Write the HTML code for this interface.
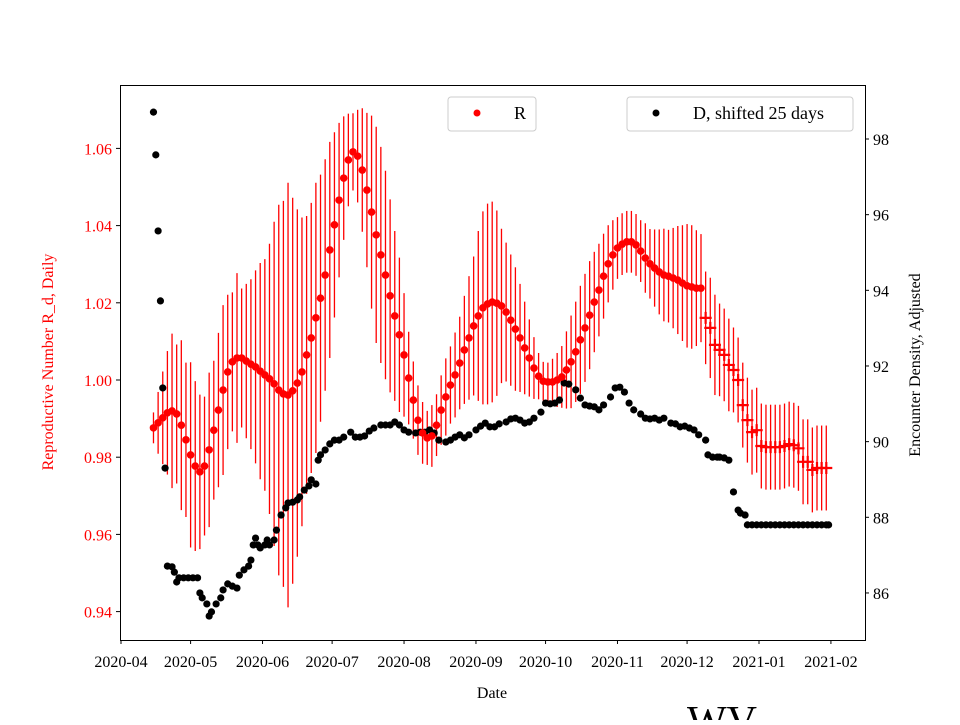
<!DOCTYPE html>
<html><head><meta charset="utf-8"><style>
body{margin:0;background:#fff;}
svg text{font-family:"Liberation Serif",serif;}
</style></head><body>
<svg id="chart" width="960" height="720" xmlns="http://www.w3.org/2000/svg">
<rect x="0" y="0" width="960" height="720" fill="#fff"/>
<g id="marks"></g>
<rect x="120.5" y="85.5" width="745" height="555" fill="none" stroke="#000" stroke-width="1"/>
<g id="axes"></g>
<g>
<rect x="448" y="97" width="88" height="34" rx="3" fill="#fff" stroke="#ccc"/>
<circle cx="477" cy="113" r="3.5" fill="#f00"/>
<text x="514" y="119" font-size="18">R</text>
</g>
<g>
<rect x="627" y="97" width="226" height="34" rx="3" fill="#fff" stroke="#ccc"/>
<circle cx="656" cy="113" r="3.5" fill="#000"/>
<text x="693" y="119" font-size="18">D, shifted 25 days</text>
</g>
<text transform="translate(53,362) rotate(-90)" text-anchor="middle" font-size="16" fill="#f00">Reproductive Number R_d, Daily</text>
<text transform="translate(920,365) rotate(-90)" text-anchor="middle" font-size="16" fill="#000">Encounter Density, Adjusted</text>
<text x="492" y="698" text-anchor="middle" font-size="16">Date</text>
<text x="722" y="735" text-anchor="middle" font-size="42">WV</text>
</svg>
<script>
const rDays = [14,16,18,20,22,24,26,28,30,32,34,36,38,40,42,44,46,48,50,52,54,56,58,60,62,64,66,68,70,72,74,76,78,80,82,84,86,88,90,92,94,96,98,100,102,104,106,108,110,112,114,116,118,120,122,124,126,128,130,132,134,136,138,140,142,144,146,148,150,152,154,156,158,160,162,164,166,168,170,172,174,176,178,180,182,184,186,188,190,192,194,196,198,200,202,204,206,208,210,212,214,216,218,220,222,224,226,228,230,232,234,236,238,240,242,244,246,248,250];
const rValues = [0.9876,0.9889,0.9902,0.9915,0.9920,0.9912,0.9883,0.9845,0.9806,0.9777,0.9762,0.9777,0.9819,0.9870,0.9922,0.9974,1.0021,1.0047,1.0057,1.0057,1.0049,1.0041,1.0034,1.0023,1.0013,1.0003,0.9990,0.9974,0.9964,0.9961,0.9972,0.9992,1.0021,1.0065,1.0109,1.0161,1.0212,1.0272,1.0337,1.0402,1.0466,1.0523,1.0570,1.0591,1.0580,1.0544,1.0492,1.0435,1.0376,1.0324,1.0272,1.0218,1.0166,1.0117,1.0065,1.0005,0.9948,0.9896,0.9863,0.9850,0.9855,0.9883,0.9922,0.9956,0.9987,1.0013,1.0044,1.0078,1.0109,1.0140,1.0166,1.0187,1.0197,1.0202,1.0199,1.0192,1.0176,1.0155,1.0132,1.0109,1.0083,1.0057,1.0031,1.0010,0.9997,0.9995,0.9995,1.0000,1.0008,1.0026,1.0047,1.0073,1.0104,1.0135,1.0168,1.0202,1.0233,1.0269,1.0301,1.0324,1.0342,1.0352,1.0358,1.0358,1.0350,1.0334,1.0316,1.0301,1.0290,1.0280,1.0272,1.0269,1.0264,1.0259,1.0251,1.0244,1.0241,1.0238,1.0238];
const rErrors = [0.004,0.008,0.012,0.016,0.02,0.018,0.022,0.02,0.024,0.022,0.02,0.018,0.02,0.018,0.02,0.022,0.02,0.018,0.022,0.018,0.02,0.022,0.025,0.028,0.03,0.035,0.042,0.048,0.05,0.055,0.05,0.045,0.04,0.036,0.035,0.035,0.032,0.03,0.028,0.024,0.02,0.016,0.012,0.01,0.012,0.016,0.02,0.025,0.028,0.028,0.027,0.025,0.022,0.02,0.016,0.012,0.01,0.009,0.008,0.007,0.008,0.008,0.009,0.01,0.01,0.011,0.012,0.014,0.016,0.018,0.022,0.025,0.026,0.026,0.024,0.02,0.018,0.017,0.016,0.014,0.012,0.01,0.008,0.006,0.005,0.005,0.006,0.007,0.008,0.01,0.012,0.013,0.014,0.014,0.014,0.013,0.012,0.011,0.01,0.009,0.008,0.008,0.008,0.008,0.008,0.008,0.009,0.009,0.01,0.011,0.012,0.012,0.013,0.014,0.015,0.016,0.016,0.015,0.014];
const pDays = [252,254,256,258,260,262,264,266,268,270,272,274,276,278,280,282,284,286,288,290,292,294,296,298,300,302,304];
const pValues = [1.0161,1.0135,1.0091,1.0078,1.0065,1.0039,1.0026,1.0000,0.9935,0.9896,0.9865,0.9870,0.9829,0.9826,0.9826,0.9826,0.9826,0.9829,0.9834,0.9831,0.9823,0.9788,0.9788,0.9767,0.9772,0.9772,0.9772];
const pErrors = [0.012,0.013,0.013,0.012,0.012,0.012,0.011,0.011,0.011,0.011,0.011,0.011,0.011,0.011,0.011,0.011,0.011,0.011,0.011,0.011,0.011,0.011,0.011,0.011,0.011,0.011,0.011];
const dDays = [14,15,16,17,18,19,20,22,23,24,25,27,29,31,33,34,35,37,38,39,41,43,44,46,48,50,51,53,55,56,57,58,59,60,62,63,64,66,67,69,71,72,74,76,77,79,81,82,84,85,86,88,90,92,94,96,99,101,103,105,107,109,112,114,116,118,120,122,124,127,129,131,133,135,137,140,142,144,146,148,150,153,155,157,159,161,163,166,168,170,172,174,176,178,181,183,185,187,189,191,193,196,198,200,202,204,206,208,211,213,215,217,219,221,224,226,228,230,232,234,237,239,241,243,245,247,249,252,253,255,257,258,260,262,264,266,267,269,270,272,274,276,278,280,282,284,286,288,290,292,294,296,298,300,302,304,305];
const dValues = [98.71,97.58,95.57,93.72,91.42,89.30,86.71,86.69,86.55,86.29,86.40,86.40,86.40,86.40,86.40,86.00,85.87,85.71,85.39,85.50,85.71,85.87,86.08,86.24,86.18,86.13,86.47,86.61,86.71,86.87,87.27,87.45,87.27,87.19,87.27,87.40,87.27,87.40,87.66,88.06,88.25,88.38,88.40,88.46,88.54,88.72,88.83,88.99,88.88,89.51,89.65,89.78,89.94,90.04,90.04,90.12,90.25,90.12,90.12,90.15,90.28,90.36,90.44,90.44,90.44,90.52,90.44,90.31,90.25,90.23,90.25,90.25,90.31,90.23,90.04,89.99,90.04,90.12,90.18,90.10,90.18,90.31,90.41,90.49,90.39,90.39,90.47,90.52,90.60,90.62,90.57,90.49,90.52,90.62,90.78,91.02,91.00,91.02,91.10,91.55,91.52,91.37,91.15,90.97,90.94,90.92,90.84,90.97,91.18,91.42,91.44,91.31,91.02,90.84,90.73,90.62,90.60,90.62,90.57,90.62,90.49,90.47,90.39,90.41,90.36,90.31,90.18,90.04,89.65,89.59,89.59,89.59,89.57,89.51,88.67,88.19,88.11,88.06,87.80,87.80,87.80,87.80,87.80,87.80,87.80,87.80,87.80,87.80,87.80,87.80,87.80,87.80,87.80,87.80,87.80,87.80,87.80];
const leftTicks = [0.94,0.96,0.98,1.00,1.02,1.04,1.06];
const leftTickLabels = ["0.94","0.96","0.98","1.00","1.02","1.04","1.06"];
const rightTicks = [86,88,90,92,94,96,98];
const xTickDays = [0,30,61,91,122,153,183,214,244,275,306];
const xTickLabels = ["2020-04","2020-05","2020-06","2020-07","2020-08","2020-09","2020-10","2020-11","2020-12","2021-01","2021-02"];

const NS = "http://www.w3.org/2000/svg";
function xs(d){ return 121 + d * 2.32; }
function yl(v){ return 380 - (v - 1) * 3860; }
function yr(v){ return 139 + (98 - v) * 37.83; }
function mk(tag, attrs, parent){
  const e = document.createElementNS(NS, tag);
  for (const k in attrs) e.setAttribute(k, attrs[k]);
  parent.appendChild(e); return e;
}
const marks = document.getElementById('marks');
const axes = document.getElementById('axes');

rDays.forEach((d, i) => {
  const l = mk('line', {x1: xs(d), x2: xs(d), y1: yl(rValues[i] + rErrors[i]), y2: yl(rValues[i] - rErrors[i]), stroke: '#f00', 'stroke-width': 1.3}, marks);
  
  
});
pDays.forEach((d, i) => {
  const l = mk('line', {x1: xs(d), x2: xs(d), y1: yl(pValues[i] + pErrors[i]), y2: yl(pValues[i] - pErrors[i]), stroke: '#f00', 'stroke-width': 1.3}, marks);
  
  
});
const nD = Math.min(dDays.length, dValues.length);
for (let i = 0; i < nD; i++) {
  const c = mk('circle', {cx: xs(dDays[i]), cy: yr(dValues[i]), r: 3.6, fill: '#000'}, marks);
  
  
}
rDays.forEach((d, i) => {
  const c = mk('circle', {cx: xs(d), cy: yl(rValues[i]), r: 3.8, fill: '#f00'}, marks);
  
  
});
pDays.forEach((d, i) => {
  const x = xs(d), y = yl(pValues[i]);
  const p = mk('path', {d: 'M' + (x - 6) + ' ' + y + 'H' + (x + 6) + 'M' + x + ' ' + (y - 6) + 'V' + (y + 6), stroke: '#f00', 'stroke-width': 2.2}, marks);
  
  
});
leftTicks.forEach((v, i) => {
  const y = yl(v);
  mk('line', {x1: 116, x2: 120, y1: y, y2: y, stroke: '#000'}, axes);
  const t = mk('text', {x: 112, y: y + 6, 'text-anchor': 'end', 'font-size': 16, fill: '#f00'}, axes);
  t.textContent = leftTickLabels[i];
  
  
});
rightTicks.forEach(v => {
  const y = yr(v);
  mk('line', {x1: 865, x2: 869, y1: y, y2: y, stroke: '#000'}, axes);
  const t = mk('text', {x: 873, y: y + 6, 'font-size': 16, fill: '#000'}, axes);
  t.textContent = String(v);
  
  
});
xTickDays.forEach((d, i) => {
  const x = xs(d);
  mk('line', {x1: x, x2: x, y1: 640, y2: 644, stroke: '#000'}, axes);
  const t = mk('text', {x: x, y: 667, 'text-anchor': 'middle', 'font-size': 16, fill: '#000'}, axes);
  t.textContent = xTickLabels[i];
  
  
});
</script>
</body></html>
